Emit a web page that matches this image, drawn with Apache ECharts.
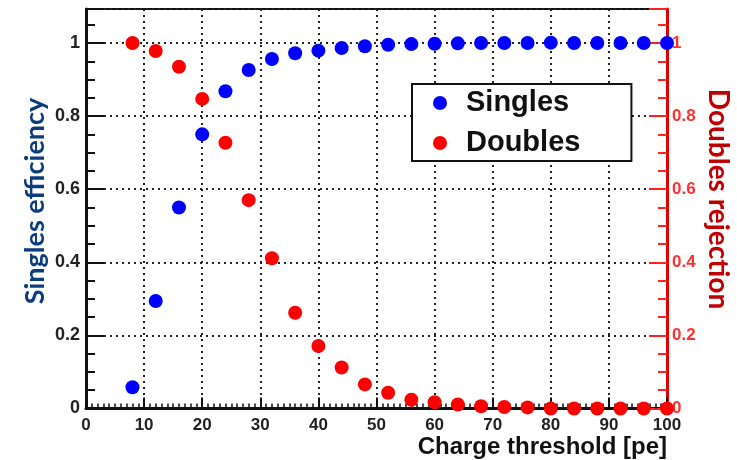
<!DOCTYPE html>
<html>
<head>
<meta charset="utf-8">
<script src="https://cdn.jsdelivr.net/npm/echarts@6/dist/echarts.min.js"></script>
<style>html,body{margin:0;padding:0;background:#fff;}#c{width:737px;height:460px;}</style>
</head>
<body>
<div id="c"></div>
<script>
var thresholds = [8,12,16,20,24,28,32,36,40,44,48,52,56,60,64,68,72,76,80,84,88,92,96,100];
var singles = [0.058,0.294,0.55,0.75,0.868,0.926,0.956,0.972,0.979,0.986,0.991,0.995,0.997,0.998,0.999,1.0,1.0,1.0,1.001,1.0,1.0,1.0,1.0,1.0];
var doubles = [1.0,0.978,0.935,0.847,0.727,0.570,0.411,0.262,0.171,0.112,0.066,0.043,0.024,0.017,0.011,0.006,0.004,0.003,0.0,0.0,0.0,0.0,0.0,0.0];
var xTicks = [0,10,20,30,40,50,60,70,80,90,100];
var yTicks = [0,0.2,0.4,0.6,0.8,1];
var seriesNames = ['Singles','Doubles'];
var titles = {x:'Charge threshold [pe]', left:'Singles efficiency', right:'Doubles rejection'};

function pair(xs, ys){ return xs.map(function(x,i){ return [x, ys[i]]; }); }
function yFmt(v){
  for (var i=0;i<yTicks.length;i++){ if (Math.abs(v-yTicks[i])<1e-6) return String(yTicks[i]); }
  return '';
}
var YMAX = 1.093;
var chart = echarts.init(document.getElementById('c'), null, {renderer:'canvas'});
var dotted = {color:'#222', width:2, type:[2,4]};
chart.setOption({
  animation:false,
  backgroundColor:'#fff',
  grid:{left:86, right:70, top:9, bottom:51.5, show:true, borderColor:'#111', borderWidth:2, backgroundColor:'transparent'},
  xAxis:{type:'value', min:0, max:100, interval:10,
    axisLine:{show:true, onZero:false, lineStyle:{color:'#111', width:3}},
    axisTick:{show:true, inside:true, length:11, lineStyle:{color:'#111', width:2}},
    minorTick:{show:true, splitNumber:10, length:5, lineStyle:{color:'#111', width:1.5}},
    splitLine:{show:true, lineStyle:dotted},
    axisLabel:{color:'#222', fontFamily:'Liberation Sans', fontWeight:'bold', fontSize:17, margin:8,
      formatter:function(v){ return xTicks.indexOf(v)>=0 ? String(v) : ''; }}
  },
  yAxis:[
    {type:'value', min:0, max:YMAX, interval:0.2, position:'left',
      axisLine:{show:true, onZero:false, lineStyle:{color:'#111', width:3}},
      axisTick:{show:true, inside:true, length:18, lineStyle:{color:'#111', width:2}},
      minorTick:{show:true, splitNumber:4, length:9, lineStyle:{color:'#111', width:2}},
      splitLine:{show:true, lineStyle:dotted},
      axisLabel:{color:'#222', fontFamily:'Liberation Sans', fontWeight:'bold', fontSize:18, margin:6, formatter:yFmt, showMaxLabel:false}
    },
    {type:'value', min:0, max:YMAX, interval:0.2, position:'right',
      axisLine:{show:true, onZero:false, lineStyle:{color:'#e00000', width:3}},
      axisTick:{show:true, inside:true, length:18, lineStyle:{color:'#ff2020', width:2}},
      minorTick:{show:true, splitNumber:4, length:9, lineStyle:{color:'#ff2020', width:2}},
      splitLine:{show:false},
      axisLabel:{color:'#ff3030', fontFamily:'Liberation Sans', fontWeight:'bold', fontSize:17, margin:5, formatter:yFmt, showMaxLabel:false}
    }
  ],
  legend:{
    left:412, top:84, orient:'vertical', padding:[4,51,3,21], itemGap:10,
    borderColor:'#111', borderWidth:2, backgroundColor:'#fff',
    icon:'circle', itemWidth:14, itemHeight:14,
    textStyle:{color:'#111', fontFamily:'Liberation Sans', fontWeight:'bold', fontSize:29, lineHeight:30, padding:[0,0,0,14]},
    data:seriesNames
  },
  graphic:[
    {type:'text', rotation:Math.PI/2, x:35, y:201,
      style:{text:titles.left, fill:'#0b3c7d', font:'bold 27px Lato', textAlign:'center', textVerticalAlign:'middle'}},
    {type:'text', rotation:-Math.PI/2, x:718, y:199,
      style:{text:titles.right, fill:'#c00000', font:'bold 28px Lato', textAlign:'center', textVerticalAlign:'middle'}},
    {type:'text', x:667, y:447,
      style:{text:titles.x, fill:'#111', font:'bold 24px "Liberation Sans"', textAlign:'right', textVerticalAlign:'middle'}}
  ],
  series:[
    {name:seriesNames[0], type:'scatter', yAxisIndex:0, data:pair(thresholds, singles), symbol:'circle', symbolSize:14,
      itemStyle:{color:'#0000ff', opacity:1}, z:3},
    {name:seriesNames[1], type:'scatter', yAxisIndex:1, data:pair(thresholds, doubles), symbol:'circle', symbolSize:14,
      itemStyle:{color:'#ff0000', opacity:1}, z:4}
  ]
});
</script>
</body>
</html>
